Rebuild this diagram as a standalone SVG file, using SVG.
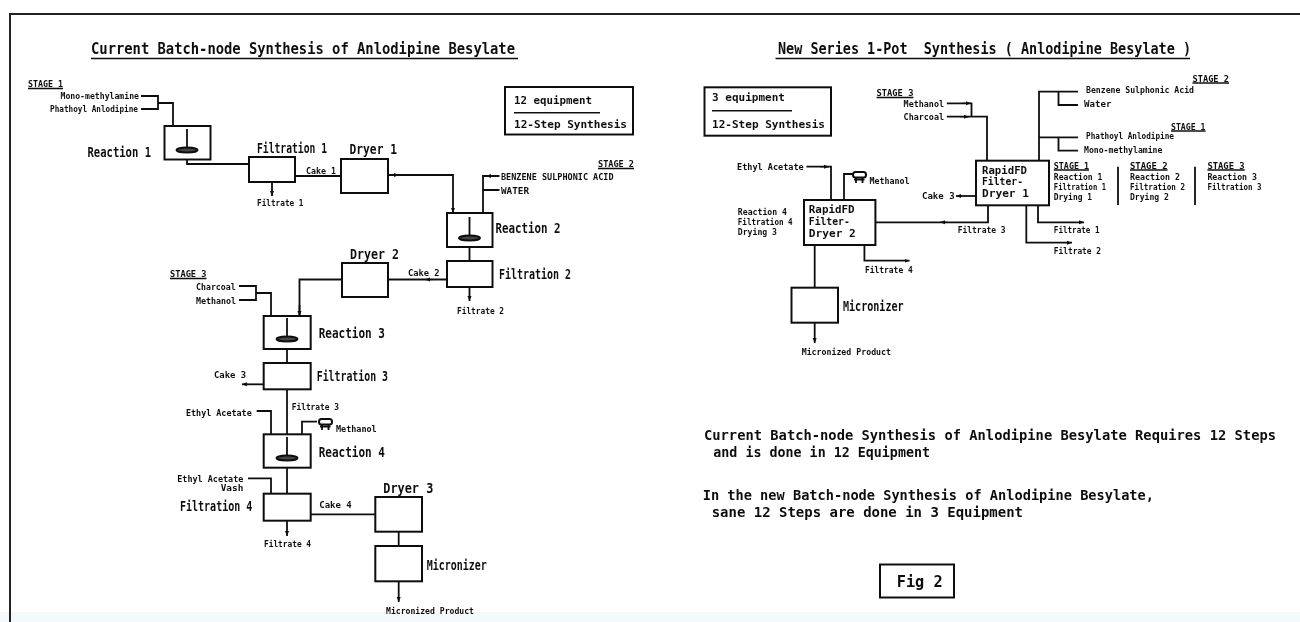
<svg xmlns="http://www.w3.org/2000/svg" width="1300" height="622" viewBox="0 0 1300 622">
<style>
text{font-family:"DejaVu Sans Mono","Liberation Mono",monospace;font-weight:700;fill:#111;white-space:pre}
.t{font-size:16px}.b{font-size:13.5px}.m{font-size:11px}.s{font-size:9px}.f{font-size:15px}
.box{fill:none;stroke:#111;stroke-width:2}
.c{fill:none;stroke:#111;stroke-width:1.8}
.u{fill:none;stroke:#111;stroke-width:1.5}
.ar{fill:none;stroke:#111;stroke-width:1.8;marker-end:url(#a)}
.mid{fill:none;stroke:#111;stroke-width:1.2;marker-end:url(#a)}
svg>g{filter:url(#soft)}
</style>
<defs>
<filter id="soft" x="-5%" y="-5%" width="110%" height="110%"><feGaussianBlur stdDeviation="0.35"/></filter>
<marker id="a" markerWidth="6" markerHeight="6" refX="5" refY="2.500" orient="auto" markerUnits="userSpaceOnUse"><path d="M0 .5L5 2.500L0 4.500Z" fill="#111"/></marker>
<g id="agit"><path class="c" d="M0 0V19"/><ellipse cx="0" cy="21" rx="10.500" ry="2.500" fill="#444" stroke="#111" stroke-width="2"/></g>
<g id="cond"><rect x="-6" y="-3" width="13" height="5.500" rx="2.500" fill="none" stroke="#111" stroke-width="2"/><path class="c" d="M-3 2.500V8M3.500 2.500V8M-5 4.500H5.500"/></g>
</defs>
<rect width="1300" height="622" fill="#fff"/>
<rect y="612" width="1300" height="10" fill="#f4f9fc"/>
<g id="frame"><path d="M10 622V14H1300" fill="none" stroke="#222" stroke-width="2"/></g>
<g id="divider"><path d="M659.500 44V578" fill="none" stroke="#222" stroke-width="2" stroke-dasharray="25 8.800"/></g>

<g id="connectors">
<path class="c" d="M141 96H158V109H141M158 103H173V126"/>
<path class="c" d="M187 160V164H249"/>
<path class="c" d="M295 176H341"/>
<path class="ar" d="M272 182V196"/>
<path class="ar" d="M388 175H453V213"/>
<path class="mid" d="M391 175H399"/>
<path class="c" d="M499.500 176H483V213M483 190H499.500"/>
<path class="mid" d="M494 176H486"/>
<path class="c" d="M469.500 247V261"/>
<path class="ar" d="M469.500 287V301"/>
<path class="c" d="M447 279.500H388M342 279.500H299.500V316"/>
<path class="mid" d="M433 279.500H425"/>
<path class="ar" d="M299.500 305V316"/>
<path class="c" d="M239 286H256V300H239M256 293H271V316"/>
<path class="c" d="M287 349V363"/>
<path class="ar" d="M263.700 384.300H242"/>
<path class="c" d="M287 389V434"/>
<path class="c" d="M256.700 411H271V434"/>
<path class="c" d="M302 434V421.700H317"/>
<path class="c" d="M287 468V493"/>
<path class="c" d="M248 478.300H271V493"/>
<path class="c" d="M310.700 514.300H375.300"/>
<path class="ar" d="M287 520.700V536"/>
<path class="c" d="M398.700 531.700V546"/>
<path class="ar" d="M398.700 581.300V602"/>

<path class="c" d="M946.800 103.300H971.500V116.700M946.800 116.700H987V160.700"/>
<path class="mid" d="M962 103.300H971"/>
<path class="mid" d="M960 116.700H969"/>
<path class="c" d="M1039 160.700V91.700H1078M1058.500 91.700V105H1078M1039 137.300H1078M1058.500 137.300V150.700H1078"/>
<path class="ar" d="M976 196H956"/>
<path class="ar" d="M1038 205.300V222.300H1084"/>
<path class="ar" d="M1026.300 205.300V242.700H1072"/>
<path class="c" d="M988 205.300V222.300H875.400"/>
<path class="mid" d="M948 222.300H940"/>
<path class="c" d="M806.400 166.700H831V200"/>
<path class="mid" d="M820 166.700H829"/>
<path class="c" d="M844 200V174H853"/>
<path class="ar" d="M864.400 245V260.700H909.500"/>
<path class="c" d="M814.700 245V287.700"/>
<path class="ar" d="M814.700 322.700V343"/>
</g>

<g id="title-left"><text class="t" x="91" y="54" textLength="424" lengthAdjust="spacingAndGlyphs">Current Batch-node Synthesis of Anlodipine Besylate</text><path class="u" d="M91 58.500H518"/></g>
<g id="title-right"><text class="t" x="778" y="54" textLength="413" lengthAdjust="spacingAndGlyphs">New Series 1-Pot  Synthesis ( Anlodipine Besylate )</text><path class="u" d="M775.500 58.500H1190"/></g>

<g id="stage1-left"><text class="s" x="28" y="87" textLength="35" lengthAdjust="spacingAndGlyphs">STAGE 1</text><path class="u" d="M28 88.500H63"/>
<text class="s" x="60.500" y="99" textLength="78.500" lengthAdjust="spacingAndGlyphs">Mono-methylamine</text>
<text class="s" x="50" y="112" textLength="88" lengthAdjust="spacingAndGlyphs">Phathoyl Anlodipine</text></g>
<g id="reaction1"><rect class="box" x="164.500" y="126" width="46" height="33.500"/><use href="#agit" x="187" y="129"/><text class="b" x="87.500" y="157" textLength="63.500" lengthAdjust="spacingAndGlyphs">Reaction 1</text></g>
<g id="filtration1"><rect class="box" x="249" y="157" width="46" height="25"/><text class="b" x="257" y="153" textLength="70" lengthAdjust="spacingAndGlyphs">Filtration 1</text></g>
<g id="dryer1"><rect class="box" x="341" y="159" width="47" height="34"/><text class="b" x="349.500" y="154" textLength="47.500" lengthAdjust="spacingAndGlyphs">Dryer 1</text></g>
<g id="label-cake1"><text class="s" x="306" y="173.500" textLength="30" lengthAdjust="spacingAndGlyphs">Cake 1</text></g>
<g id="label-filtrate1"><text class="s" x="257" y="205.500" textLength="46.500" lengthAdjust="spacingAndGlyphs">Filtrate 1</text></g>

<g id="legend-left"><rect class="box" x="505" y="87" width="128" height="47.500"/><text class="m" x="514" y="104" textLength="78" lengthAdjust="spacingAndGlyphs">12 equipment</text><path class="u" d="M514 112.700H600"/><text class="m" x="514" y="128" textLength="113" lengthAdjust="spacingAndGlyphs">12-Step Synthesis</text></g>

<g id="stage2-left"><text class="s" x="598" y="167" textLength="36" lengthAdjust="spacingAndGlyphs">STAGE 2</text><path class="u" d="M598 168.500H634"/>
<text class="s" x="501" y="179.500" textLength="112.600" lengthAdjust="spacingAndGlyphs">BENZENE SULPHONIC ACID</text>
<text class="s" x="501" y="193.500" textLength="28" lengthAdjust="spacingAndGlyphs">WATER</text></g>
<g id="reaction2"><rect class="box" x="447" y="213" width="45.500" height="34"/><use href="#agit" x="469.500" y="217"/><text class="b" x="495.500" y="233" textLength="65" lengthAdjust="spacingAndGlyphs">Reaction 2</text></g>
<g id="filtration2"><rect class="box" x="447" y="261" width="45.500" height="26"/><text class="b" x="499" y="278.500" textLength="72" lengthAdjust="spacingAndGlyphs">Filtration 2</text></g>
<g id="label-filtrate2"><text class="s" x="457" y="313.500" textLength="47" lengthAdjust="spacingAndGlyphs">Filtrate 2</text></g>
<g id="label-cake2"><text class="s" x="408" y="275.500" textLength="31.500" lengthAdjust="spacingAndGlyphs">Cake 2</text></g>
<g id="dryer2"><rect class="box" x="342" y="263" width="46" height="34"/><text class="b" x="350" y="259" textLength="49" lengthAdjust="spacingAndGlyphs">Dryer 2</text></g>

<g id="stage3-left"><text class="s" x="170" y="277" textLength="36.500" lengthAdjust="spacingAndGlyphs">STAGE 3</text><path class="u" d="M170 278.500H206.500"/>
<text class="s" x="196" y="289.500" textLength="39.700" lengthAdjust="spacingAndGlyphs">Charcoal</text>
<text class="s" x="196" y="303.500" textLength="40" lengthAdjust="spacingAndGlyphs">Methanol</text></g>
<g id="reaction3"><rect class="box" x="263.700" y="316" width="47" height="33"/><use href="#agit" x="287" y="318"/><text class="b" x="318.700" y="338" textLength="66.300" lengthAdjust="spacingAndGlyphs">Reaction 3</text></g>
<g id="filtration3"><rect class="box" x="263.700" y="363" width="47" height="26.300"/><text class="b" x="316.700" y="381" textLength="71.300" lengthAdjust="spacingAndGlyphs">Filtration 3</text></g>
<g id="label-cake3"><text class="s" x="214" y="377.500" textLength="32" lengthAdjust="spacingAndGlyphs">Cake 3</text></g>
<g id="label-filtrate3"><text class="s" x="291.700" y="409.500" textLength="47.300" lengthAdjust="spacingAndGlyphs">Filtrate 3</text></g>
<g id="label-ethyl"><text class="s" x="186" y="415.500" textLength="65.700" lengthAdjust="spacingAndGlyphs">Ethyl Acetate</text></g>
<g id="condenser-left"><use href="#cond" x="325" y="422"/><text class="s" x="336" y="431.500" textLength="40.700" lengthAdjust="spacingAndGlyphs">Methanol</text></g>
<g id="reaction4"><rect class="box" x="263.700" y="434.300" width="47" height="33.400"/><use href="#agit" x="287" y="437"/><text class="b" x="318.700" y="457" textLength="66.300" lengthAdjust="spacingAndGlyphs">Reaction 4</text></g>
<g id="label-ethyl-vash"><text class="s" x="177.300" y="481.500" textLength="66" lengthAdjust="spacingAndGlyphs">Ethyl Acetate</text>
<text class="s" x="220.700" y="490.500" textLength="22.600" lengthAdjust="spacingAndGlyphs">Vash</text></g>
<g id="filtration4"><rect class="box" x="263.700" y="493.700" width="47" height="27"/><text class="b" x="180" y="511" textLength="72.300" lengthAdjust="spacingAndGlyphs">Filtration 4</text></g>
<g id="label-cake4"><text class="s" x="319.300" y="507.800" textLength="32.400" lengthAdjust="spacingAndGlyphs">Cake 4</text></g>
<g id="label-filtrate4"><text class="s" x="264" y="547.200" textLength="47" lengthAdjust="spacingAndGlyphs">Filtrate 4</text></g>
<g id="dryer3"><rect class="box" x="375.300" y="497" width="46.700" height="34.700"/><text class="b" x="383.300" y="493" textLength="50" lengthAdjust="spacingAndGlyphs">Dryer 3</text></g>
<g id="micronizer-left"><rect class="box" x="375.300" y="546" width="46.700" height="35.300"/><text class="b" x="426.700" y="570" textLength="60" lengthAdjust="spacingAndGlyphs">Micronizer</text></g>
<g id="label-product-left"><text class="s" x="386" y="614" textLength="88" lengthAdjust="spacingAndGlyphs">Micronized Product</text></g>

<g id="legend-right"><rect class="box" x="704.500" y="87.300" width="126.500" height="48.400"/><text class="m" x="712" y="100.700" textLength="73" lengthAdjust="spacingAndGlyphs">3 equipment</text><path class="u" d="M712 110.700H792"/><text class="m" x="712" y="128" textLength="113" lengthAdjust="spacingAndGlyphs">12-Step Synthesis</text></g>
<g id="stage3-right"><text class="s" x="876.600" y="96" textLength="36.800" lengthAdjust="spacingAndGlyphs">STAGE 3</text><path class="u" d="M876.600 97.500H913.400"/>
<text class="s" x="903.600" y="106.800" textLength="40.400" lengthAdjust="spacingAndGlyphs">Methanol</text>
<text class="s" x="903.600" y="120.200" textLength="40.400" lengthAdjust="spacingAndGlyphs">Charcoal</text></g>
<g id="stage2-right"><text class="s" x="1192.500" y="81.500" textLength="36.500" lengthAdjust="spacingAndGlyphs">STAGE 2</text><path class="u" d="M1192.500 83H1229"/>
<text class="s" x="1086" y="92.500" textLength="108" lengthAdjust="spacingAndGlyphs">Benzene Sulphonic Acid</text>
<text class="s" x="1084" y="107.200" textLength="27.400" lengthAdjust="spacingAndGlyphs">Water</text></g>
<g id="stage1-right"><text class="s" x="1171" y="129.500" textLength="34.500" lengthAdjust="spacingAndGlyphs">STAGE 1</text><path class="u" d="M1171 131H1205.500"/>
<text class="s" x="1086" y="138.800" textLength="88" lengthAdjust="spacingAndGlyphs">Phathoyl Anlodipine</text>
<text class="s" x="1084" y="152.800" textLength="78.400" lengthAdjust="spacingAndGlyphs">Mono-methylamine</text></g>
<g id="rapidfd1"><rect class="box" x="976" y="160.700" width="73" height="44.600"/><text class="m" x="982" y="173.500" textLength="45" lengthAdjust="spacingAndGlyphs">RapidFD</text><text class="m" x="982" y="185.200" textLength="41" lengthAdjust="spacingAndGlyphs">Filter-</text><text class="m" x="982" y="197" textLength="47" lengthAdjust="spacingAndGlyphs">Dryer 1</text></g>
<g id="steps1"><text class="s" x="1053.800" y="168.800" textLength="35.200" lengthAdjust="spacingAndGlyphs">STAGE 1</text><path class="u" d="M1053.800 170H1089"/>
<text class="s" x="1053.800" y="179.800" textLength="48.600" lengthAdjust="spacingAndGlyphs">Reaction 1</text>
<text class="s" x="1053.800" y="189.800" textLength="52.200" lengthAdjust="spacingAndGlyphs">Filtration 1</text>
<text class="s" x="1053.800" y="199.500" textLength="38.200" lengthAdjust="spacingAndGlyphs">Drying 1</text></g>
<g id="step-dividers"><path class="c" d="M1118 166.700V205M1195 166.700V205"/></g>
<g id="steps2"><text class="s" x="1130" y="168.800" textLength="37.500" lengthAdjust="spacingAndGlyphs">STAGE 2</text><path class="u" d="M1130 170H1167.500"/>
<text class="s" x="1130" y="179.800" textLength="50" lengthAdjust="spacingAndGlyphs">Reaction 2</text>
<text class="s" x="1130" y="189.800" textLength="55" lengthAdjust="spacingAndGlyphs">Filtration 2</text>
<text class="s" x="1130" y="199.500" textLength="39" lengthAdjust="spacingAndGlyphs">Drying 2</text></g>
<g id="steps3"><text class="s" x="1207.400" y="168.800" textLength="37.300" lengthAdjust="spacingAndGlyphs">STAGE 3</text><path class="u" d="M1207.400 170H1244.700"/>
<text class="s" x="1207.400" y="179.800" textLength="49.600" lengthAdjust="spacingAndGlyphs">Reaction 3</text>
<text class="s" x="1207.400" y="189.800" textLength="54.100" lengthAdjust="spacingAndGlyphs">Filtration 3</text></g>
<g id="labels-right"><text class="s" x="922" y="199.200" textLength="32.600" lengthAdjust="spacingAndGlyphs">Cake 3</text>
<text class="s" x="1053.800" y="233.200" textLength="45.800" lengthAdjust="spacingAndGlyphs">Filtrate 1</text>
<text class="s" x="1053.800" y="253.500" textLength="47.200" lengthAdjust="spacingAndGlyphs">Filtrate 2</text>
<text class="s" x="957.700" y="233.200" textLength="47.900" lengthAdjust="spacingAndGlyphs">Filtrate 3</text>
<text class="s" x="737" y="170.200" textLength="66.700" lengthAdjust="spacingAndGlyphs">Ethyl Acetate</text>
<text class="s" x="865" y="272.500" textLength="47.700" lengthAdjust="spacingAndGlyphs">Filtrate 4</text>
<text class="s" x="801.700" y="354.500" textLength="89.300" lengthAdjust="spacingAndGlyphs">Micronized Product</text></g>
<g id="condenser-right"><use href="#cond" x="859" y="175"/><text class="s" x="869.500" y="184.200" textLength="40" lengthAdjust="spacingAndGlyphs">Methanol</text></g>
<g id="rapidfd2"><rect class="box" x="804" y="200" width="71.400" height="45"/><text class="m" x="808.800" y="212.500" textLength="45.800" lengthAdjust="spacingAndGlyphs">RapidFD</text><text class="m" x="808.800" y="224.500" textLength="41" lengthAdjust="spacingAndGlyphs">Filter-</text><text class="m" x="808.800" y="236.500" textLength="47" lengthAdjust="spacingAndGlyphs">Dryer 2</text></g>
<g id="steps4"><text class="s" x="737.800" y="215.200" textLength="49.200" lengthAdjust="spacingAndGlyphs">Reaction 4</text>
<text class="s" x="737.800" y="225.200" textLength="54.900" lengthAdjust="spacingAndGlyphs">Filtration 4</text>
<text class="s" x="737.800" y="234.800" textLength="39.200" lengthAdjust="spacingAndGlyphs">Drying 3</text></g>
<g id="micronizer-right"><rect class="box" x="791.500" y="287.700" width="46.500" height="35"/><text class="b" x="843" y="311" textLength="60.600" lengthAdjust="spacingAndGlyphs">Micronizer</text></g>

<g id="notes">
<text class="b" x="704" y="439.700" textLength="572" lengthAdjust="spacingAndGlyphs">Current Batch-node Synthesis of Anlodipine Besylate Requires 12 Steps</text>
<text class="b" x="713.300" y="456.700" textLength="216.700" lengthAdjust="spacingAndGlyphs">and is done in 12 Equipment</text>
<text class="b" x="702.700" y="500" textLength="451.300" lengthAdjust="spacingAndGlyphs">In the new Batch-node Synthesis of Anlodipine Besylate,</text>
<text class="b" x="711.700" y="516.700" textLength="311.300" lengthAdjust="spacingAndGlyphs">sane 12 Steps are done in 3 Equipment</text>
</g>
<g id="fig"><rect class="box" x="880" y="564.500" width="74" height="33"/><text class="f" x="896.700" y="587" textLength="46" lengthAdjust="spacingAndGlyphs">Fig 2</text></g>
</svg>
